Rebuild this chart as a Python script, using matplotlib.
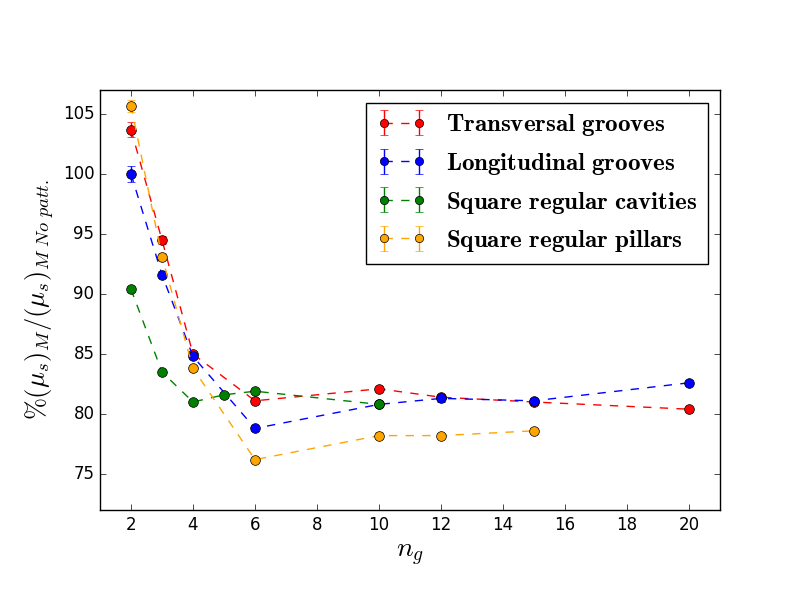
import numpy as np
import matplotlib
matplotlib.use('Agg')
import matplotlib.pyplot as plt

plt.style.use('classic')
plt.rcParams['mathtext.fontset'] = 'cm'

# datos
ng_trans = [2, 3, 4, 6, 10, 12, 15, 20]
mu_trans = [103.7, 94.5, 85.0, 81.1, 82.1, 81.4, 81.0, 80.4]
err_trans = [0.6, 0.3, 0.2, 0.2, 0.2, 0.2, 0.2, 0.2]

ng_long = [2, 3, 4, 6, 10, 12, 15, 20]
mu_long = [100.0, 91.6, 84.8, 78.8, 80.8, 81.3, 81.1, 82.6]
err_long = [0.7, 0.3, 0.2, 0.2, 0.2, 0.3, 0.2, 0.2]

ng_cav = [2, 3, 4, 5, 6, 10]
mu_cav = [90.4, 83.5, 81.0, 81.6, 81.9, 80.8]
err_cav = [0.2, 0.2, 0.2, 0.2, 0.2, 0.2]

ng_pil = [2, 3, 4, 6, 10, 12, 15]
mu_pil = [105.7, 93.1, 83.8, 76.2, 78.2, 78.2, 78.6]
err_pil = [0.5, 0.3, 0.2, 0.2, 0.3, 0.2, 0.2]

series = [
    (ng_trans, mu_trans, err_trans, 'red', r'$\mathbf{Transversal\ grooves}$'),
    (ng_long, mu_long, err_long, 'blue', r'$\mathbf{Longitudinal\ grooves}$'),
    (ng_cav, mu_cav, err_cav, 'green', r'$\mathbf{Square\ regular\ cavities}$'),
    (ng_pil, mu_pil, err_pil, 'orange', r'$\mathbf{Square\ regular\ pillars}$'),
]

fig = plt.figure(figsize=(8, 6), dpi=100)
ax = fig.add_subplot(111)
fig.subplots_adjust(left=0.125, right=0.9, bottom=0.15, top=0.85)

for x, y, e, c, lab in series:
    ax.errorbar(x, y, yerr=e, fmt='o--', color=c, mfc=c, mec='black',
                ecolor=c, markersize=7, capsize=3, label=lab)

ax.set_xlim(1, 21)
ax.set_ylim(72, 107)
ax.set_xticks([2, 4, 6, 8, 10, 12, 14, 16, 18, 20])
ax.set_yticks([75, 80, 85, 90, 95, 100, 105])
ax.set_xlabel(r'$n_g$', fontsize=20)
ax.set_ylabel(r'$\%(\mu_s)_M/(\mu_s)_{M\ No\ patt.}$', fontsize=19)

ax.legend(loc='upper right', numpoints=2, fontsize=18, markerscale=0.85)

fig.savefig('out.png', dpi=100)
